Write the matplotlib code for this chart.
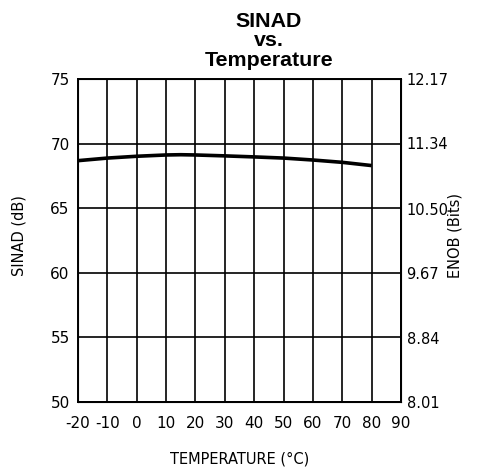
import matplotlib.pyplot as plt
import numpy as np

# SINAD vs temperature
temp_c = [-20, -10, 0, 10, 15, 20, 30, 40, 50, 60, 70, 80]
sinad_db = [68.68, 68.88, 69.02, 69.12, 69.14, 69.12, 69.05, 68.97, 68.88, 68.73, 68.55, 68.30]

x_ticks = [-20, -10, 0, 10, 20, 30, 40, 50, 60, 70, 80, 90]
y_ticks = [50, 55, 60, 65, 70, 75]
enob_ticks = [8.01, 8.84, 9.67, 10.50, 11.34, 12.17]
enob_labels = ["8.01", "8.84", "9.67", "10.50", "11.34", "12.17"]

plt.rcParams['font.family'] = ['DejaVu Sans']

fig = plt.figure(figsize=(4.79, 4.70), dpi=100)
ax = fig.add_axes([0.1628, 0.1447, 0.6744, 0.6872])

ax.plot(temp_c, sinad_db, color='black', linewidth=2.6, solid_capstyle='butt')

ax.set_xlim(-20, 90)
ax.set_ylim(50, 75)
ax.set_xticks(x_ticks)
ax.set_yticks(y_ticks)
ax.set_xticklabels([str(t) for t in x_ticks])
ax.grid(True, color='black', linewidth=1.2)
ax.tick_params(axis='x', length=0, pad=10, labelsize=11)
ax.tick_params(axis='y', length=0, pad=6, labelsize=11)
for s in ax.spines.values():
    s.set_linewidth(1.4)

ax2 = ax.twinx()
ax2.set_ylim(enob_ticks[0], enob_ticks[-1])
ax2.set_yticks(enob_ticks)
ax2.set_yticklabels(enob_labels)
ax2.tick_params(axis='y', length=0, pad=4, labelsize=10.5)

fig.text(240 / 479, 1 - 459 / 470, 'TEMPERATURE (°C)', ha='center', va='center', fontsize=10.5)
fig.text(19 / 479, 1 - 236 / 470, 'SINAD (dB)', ha='center', va='center', rotation=90, fontsize=10.5)
fig.text(455 / 479, 1 - 235 / 470, 'ENOB (Bits)', ha='center', va='center', rotation=90, fontsize=10.5)
fig.text(269 / 479, 1 - 66 / 470, 'SINAD\nvs.\nTemperature', ha='center', va='baseline',
         fontsize=15.4, fontweight='bold', family='Liberation Sans', linespacing=1.04)

fig.savefig('out.png', dpi=100)
